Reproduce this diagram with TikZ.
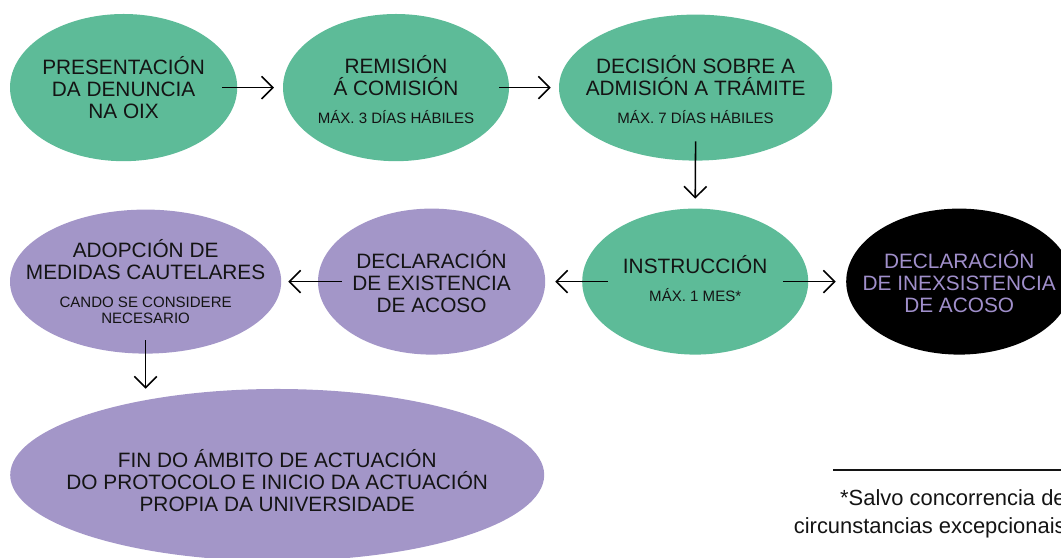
\documentclass[tikz,border=0pt]{standalone}
\usepackage{fontspec}
\setmainfont{Liberation Sans}
\usepackage{tikz}
\usetikzlibrary{shapes.geometric, arrows.meta, positioning, calc}
\definecolor{stepgreen}{HTML}{5DBB98}
\definecolor{steplilac}{HTML}{A396C8}
\definecolor{lilactext}{HTML}{A08FCB}
\definecolor{inktext}{HTML}{141414}
\newcommand{\bigtxt}{\fontsize{14.8}{15.7}\selectfont}
\newcommand{\smalltxt}{\fontsize{10.7}{11.4}\selectfont}

\begin{document}
\begin{tikzpicture}[
    stage/.style={ellipse, inner sep=0pt},
    green/.style={stage, fill=stepgreen},
    lilac/.style={stage, fill=steplilac},
    txt/.style={align=center, inner sep=0pt, text=inktext, font=\bigtxt},
    arr/.style={-{Straight Barb[length=8pt, width=16pt]}, line width=1.1pt, black}
]
\useasboundingbox (0,0) rectangle (26.525,13.95);

% first row
\node[green, minimum width=5.68cm, minimum height=3.68cm] (pres) at (3.09,11.76) {};
\node[txt] (pres-t) at (pres) {PRESENTACIÓN\\DA DENUNCIA\\NA OIX};
\node[green, minimum width=5.65cm, minimum height=3.68cm] (rem) at (9.90,11.76) {};
\node[txt] (rem-t) at ([yshift=-0.05cm]rem.center)
  {REMISIÓN\\Á COMISIÓN\\[4pt]{\smalltxt MÁX. 3 DÍAS HÁBILES}};
\node[green, minimum width=6.83cm, minimum height=3.65cm] (dec) at (17.39,11.76) {};
\node[txt] (dec-t) at ([yshift=-0.05cm]dec.center)
  {DECISIÓN SOBRE A\\ADMISIÓN A TRÁMITE\\[4pt]{\smalltxt MÁX. 7 DÍAS HÁBILES}};

% second row
\node[lilac, minimum width=6.78cm, minimum height=3.60cm] (adop) at (3.64,6.91) {};
\node[txt] (adop-t) at (adop)
  {ADOPCIÓN DE\\MEDIDAS CAUTELARES\\[4pt]{\smalltxt CANDO SE CONSIDERE}\\[-4.5pt]{\smalltxt NECESARIO}};
\node[lilac, minimum width=5.68cm, minimum height=3.65cm] (exis) at (10.79,6.91) {};
\node[txt] (exis-t) at (exis) {DECLARACIÓN\\DE EXISTENCIA\\DE ACOSO};
\node[green, minimum width=5.65cm, minimum height=3.65cm] (inst) at (17.38,6.91) {};
\node[txt] (inst-t) at ([yshift=0.08cm]inst.center) {INSTRUCCIÓN\\[4pt]{\smalltxt MÁX. 1 MES*}};
\node[stage, fill=black, minimum width=5.65cm, minimum height=3.65cm] (inex) at (23.98,6.91) {};
\node[txt, text=lilactext] (inex-t) at (inex) {DECLARACIÓN\\DE INEXSISTENCIA\\DE ACOSO};

% last stage
\node[lilac, minimum width=13.35cm, minimum height=4.30cm] (fin) at (6.93,2.075) {};
\node[txt] (fin-t) at ([yshift=-0.15cm]fin.center)
  {FIN DO ÁMBITO DE ACTUACIÓN\\DO PROTOCOLO E INICIO DA ACTUACIÓN\\PROPIA DA UNIVERSIDADE};

% connectors
\draw[arr] ([xshift=-0.38cm]pres.east) -- ([xshift=-0.22cm]rem.west);
\draw[arr] ([xshift=-0.25cm]rem.east) -- ([xshift=-0.20cm]dec.west);
\draw[arr] ([yshift=0.49cm]dec.south) -- ([yshift=0.24cm]inst.north);
\draw[arr] ([xshift=0.645cm]inst.west) -- ([xshift=0.245cm]exis.east);
\draw[arr] ([xshift=-0.63cm]inst.east) -- ([xshift=-0.255cm]inex.west);
\draw[arr] ([xshift=0.60cm]exis.west) -- ([xshift=0.17cm]adop.east);
\draw[arr] ([yshift=0.34cm]adop.south) -- (adop.south |- fin.north);

% footnote
\coordinate (rulel) at (20.825,2.2);
\coordinate (ruler) at (26.6,2.2);
\draw[line width=1.1pt, inktext] (rulel) -- (ruler);
\node[anchor=base east, align=right, inner sep=0pt, text=inktext,
      font=\fontsize{15.6}{20.6}\selectfont] (note) at (26.65,0.6)
  {*Salvo concorrencia de\\circunstancias excepcionais};
\end{tikzpicture}
\end{document}
